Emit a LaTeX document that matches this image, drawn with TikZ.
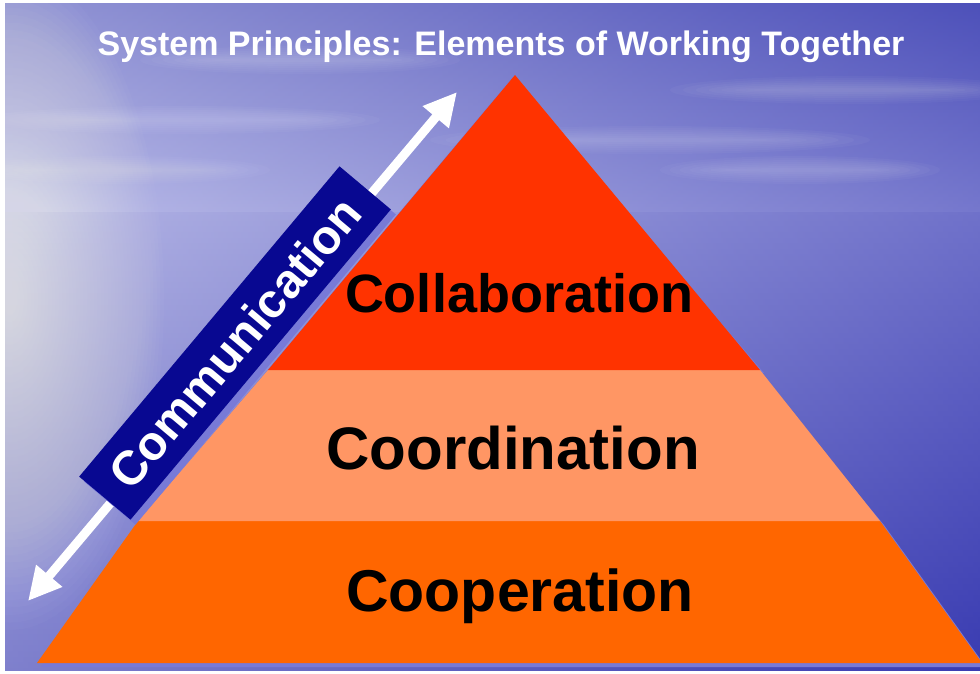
\documentclass[tikz,border=0pt]{standalone}
\usepackage{fontspec}
\setmainfont{Liberation Sans}
\usetikzlibrary{arrows.meta,positioning}

\definecolor{skytop}{RGB}{88,92,190}
\definecolor{skylow}{RGB}{150,152,220}
\definecolor{seatop}{RGB}{140,142,215}
\definecolor{seabot}{RGB}{58,60,178}
\definecolor{collab}{RGB}{255,51,0}
\definecolor{coord}{RGB}{255,150,100}
\definecolor{coop}{RGB}{255,102,0}
\definecolor{navy}{RGB}{8,8,145}
\definecolor{shadowblue}{RGB}{120,122,215}

\tikzset{
  layertext/.style={font=\bfseries\fontsize{#1}{#1}\selectfont, text=black},
  commbox/.style={fill=navy, text=white, minimum width=405pt, minimum height=67pt,
    inner sep=0pt, font=\bfseries\fontsize{48}{50}\selectfont},
  twoway/.style={white, line width=9pt, {Triangle[length=33pt,width=32pt]}-{Triangle[length=33pt,width=32pt]}}
}

\begin{document}
\begin{tikzpicture}[x=1pt,y=-1pt]
  \useasboundingbox (0,0) rectangle (980,673);
  \fill[white] (0,0) rectangle (980,673);
  \begin{scope}
    \clip (5,3) rectangle (980,670);
    % sky and sea
    \shade[top color=skytop, bottom color=skylow] (5,3) rectangle (980,212);
    \shade[top color=seatop, bottom color=seabot] (5,212) rectangle (980,670);
    \shade[left color=white, right color=seabot, opacity=0.35] (5,3) rectangle (980,670);
    % glow on the water
    \foreach \r in {5,10,...,220}
      \fill[white, opacity=0.022] (10,300) ellipse ({\r*0.7} and {\r*1.5});
    % clouds
    \foreach \cx/\cy/\w in {180/120/200, 300/60/160, 650/140/220, 850/90/180, 120/170/150, 800/170/140}
      \foreach \h in {2,4,...,14}
        \fill[white, opacity=0.03] (\cx,\cy) ellipse ({\w*(0.5+\h/28)} and {\h});
  \end{scope}

  % pyramid
  \coordinate (apex) at (515,75);
  \coordinate (l1) at (268,370);
  \coordinate (r1) at (760,370);
  \coordinate (l2) at (138,521);
  \coordinate (r2) at (880,521);
  \coordinate (l3) at (37,663);
  \coordinate (r3) at (982,663);

  \begin{scope}
    \clip (0,0) rectangle (980,673);
    \fill[shadowblue] ([shift={(4,4)}]l2) -- ([shift={(4,4)}]r2) -- ([shift={(4,4)}]r3) -- ([shift={(4,4)}]l3) -- cycle;
    \fill[shadowblue] ([shift={(-3,3)}]l1) -- ([shift={(-3,3)}]r1) -- ([shift={(4,4)}]r2) -- ([shift={(-3,3)}]l2) -- cycle;
    \fill[shadowblue] ([shift={(-3,3)}]apex) -- ([shift={(4,3)}]r1) -- ([shift={(-3,3)}]l1) -- cycle;
    \fill[coop] (l2) -- (r2) -- (r3) -- (l3) -- cycle;
    \fill[coord] (l1) -- (r1) -- (r2) -- (l2) -- cycle;
    \fill[collab] (apex) -- (r1) -- (l1) -- cycle;
  \end{scope}

  \node[layertext=54] (collaboration) at (519,293) {Collaboration};
  \node[layertext=60] (coordination) at (513,448) {Coordination};
  \node[layertext=59] (cooperation) at (520,596) {Cooperation};

  % communication arrow and box
  \coordinate (low) at (28,601);
  \coordinate (high) at (457,92);
  \draw[twoway] (low) -- (high);
  \fill[shadowblue, rotate around={50:(240,348)}] (37.5,314.5) rectangle (442.5,381.5);
  \node[commbox, rotate=50] (communication) at (235,343) {Communication};

  % title
  \node[font=\bfseries\fontsize{34}{38}\selectfont, text=white] (title) at (501,47) {System Principles: Elements of Working Together};
\end{tikzpicture}
\end{document}
